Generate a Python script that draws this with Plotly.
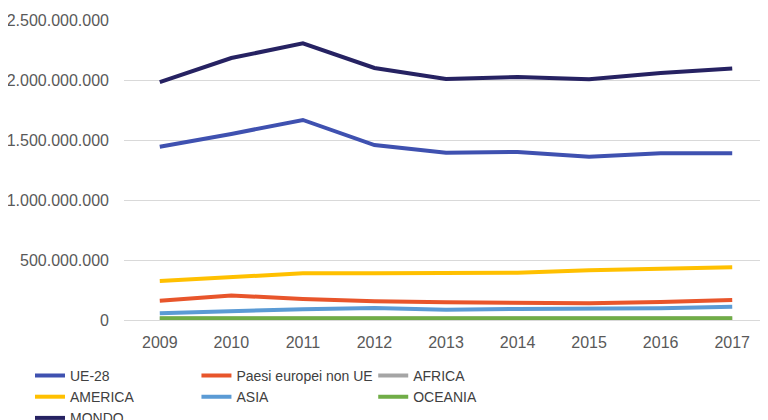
import plotly.graph_objects as go

years = ["2009", "2010", "2011", "2012", "2013", "2014", "2015", "2016", "2017"]

ue28 = [1444e6, 1550e6, 1667e6, 1458e6, 1394e6, 1400e6, 1361e6, 1390e6, 1389e6]
paesi_non_ue = [161e6, 204e6, 175e6, 156e6, 147e6, 144e6, 139e6, 150e6, 167e6]
africa = [12e6, 12e6, 12e6, 12e6, 12e6, 12e6, 12e6, 12e6, 12e6]
america = [325e6, 361e6, 389e6, 389e6, 388e6, 394e6, 415e6, 430e6, 439e6]
asia = [56e6, 75e6, 90e6, 100e6, 86e6, 92e6, 93e6, 97e6, 111e6]
oceania = [14e6, 15e6, 14e6, 15e6, 15e6, 15e6, 15e6, 15e6, 15e6]
mondo = [1983e6, 2183e6, 2306e6, 2100e6, 2008e6, 2025e6, 2006e6, 2058e6, 2095e6]

series = [
    ("UE-28", ue28, "#3F51B0", "legend"),
    ("Paesi europei non UE", paesi_non_ue, "#E8552B", "legend2"),
    ("AFRICA", africa, "#A5A5A5", "legend3"),
    ("AMERICA", america, "#FFC000", "legend"),
    ("ASIA", asia, "#5B9BD5", "legend2"),
    ("OCEANIA", oceania, "#70AD47", "legend3"),
    ("MONDO", mondo, "#262262", "legend"),
]

fig = go.Figure()
for name, vals, color, lg in series:
    fig.add_trace(go.Scatter(
        x=years, y=vals, name=name, mode="lines",
        line=dict(color=color, width=4),
        legend=lg,
    ))

legend_font = dict(family="Liberation Sans Narrow, Liberation Sans, Arial", size=14, color="#404040")
common = dict(orientation="v", yanchor="top", y=-0.133, xanchor="left",
              font=legend_font, bgcolor="rgba(0,0,0,0)", tracegroupgap=0,
              itemwidth=30)

# The page body has an 8px default margin, so the figure is sized to fit the 768x420 window.
fig.update_layout(
    width=760, height=412,
    margin=dict(l=116, r=0, t=12, b=100, autoexpand=False),
    paper_bgcolor="white", plot_bgcolor="white",
    separators=",.",
    font=dict(family="Liberation Sans, Arial", size=16, color="#595959"),
    showlegend=True,
    legend=dict(x=-0.146, **common),
    legend2=dict(x=0.1125, **common),
    legend3=dict(x=0.387, **common),
    xaxis=dict(
        type="category", range=[-0.5, 8.5], showgrid=False, showline=True,
        linecolor="#D9D9D9", linewidth=1, ticks="",
        tickfont=dict(size=16, color="#595959"), ticklabelstandoff=8,
    ),
    yaxis=dict(
        range=[0, 2.5e9], tickvals=[0, 5e8, 1e9, 1.5e9, 2e9, 2.5e9],
        tickformat=",d", showgrid=True, gridcolor="#D9D9D9", gridwidth=1,
        zeroline=False, showline=False, ticks="", ticklabelstandoff=14,
        tickfont=dict(size=16, color="#595959"),
    ),
)

fig.write_html("out.html")
